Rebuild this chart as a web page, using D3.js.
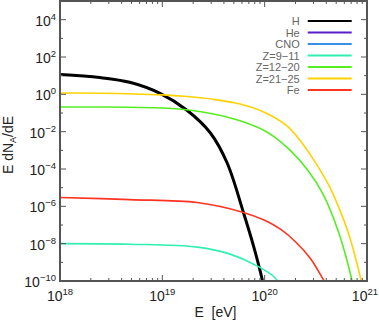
<!DOCTYPE html>
<html>
<head>
<script src="https://d3js.org/d3.v7.min.js"></script>
<style>
  body { margin: 0; background: #fff; }
  text { font-family: "Liberation Sans", Arial, sans-serif; }
</style>
</head>
<body>
<svg id="chart" width="379" height="320"></svg>
<script>
// energies (eV) and E dN/dE, one pair of arrays per group
var eH   = [1e18, 2.45e18, 4.8e18, 9.5e18, 1.74e19, 2.95e19, 4.3e19, 6.2e19, 7.8e19, 9.4e19, 1.0e20];
var fH   = [11.5, 7.9, 4.4, 1.12, 0.14, 8.5e-3, 2.1e-4, 4.7e-7, 7.2e-9, 1.4e-10, 2.5e-11];
var eHe  = [];
var fHe  = [];
var eCNO = [];
var fCNO = [];
var eZ9  = [1e18, 4.8e18, 2.2e19, 4.6e19, 8.5e19, 1.29e20, 1.4e20];
var fZ9  = [1.0e-8, 9.3e-9, 6.5e-9, 2.75e-9, 6.3e-10, 1.3e-10, 3e-11];
var eZ12 = [1e18, 2.5e18, 1e19, 1.74e19, 3.16e19, 5.75e19, 1e20, 1.26e20, 1.78e20, 2.63e20, 3.72e20, 5.25e20, 6.3e20, 7.08e20, 7.6e20];
var fZ12 = [0.21, 0.21, 0.186, 0.148, 0.089, 0.038, 0.0112, 5.0e-3, 1.0e-3, 8.9e-5, 4.5e-6, 4.5e-8, 1.6e-9, 1.26e-10, 2.5e-11];
var eZ21 = [1e18, 2.5e18, 1e19, 1.74e19, 3.16e19, 5.75e19, 1e20, 1.66e20, 2.24e20, 3.0e20, 4.17e20, 5.25e20, 6.6e20, 7.76e20, 8.7e20, 9.5e20];
var fZ21 = [1.17, 1.15, 0.93, 0.76, 0.54, 0.30, 0.107, 0.02, 3.2e-3, 3.2e-4, 1.6e-5, 1.0e-6, 3.5e-8, 1.6e-9, 1.26e-10, 1.8e-11];
var eFe  = [1e18, 4.8e18, 2.2e19, 6.2e19, 1e20, 1.45e20, 2.0e20, 2.8e20, 3.72e20, 4.1e20];
var fFe  = [3.0e-6, 2.3e-6, 1.6e-6, 4.7e-7, 1.78e-7, 5.6e-8, 1.26e-8, 1.6e-9, 1.26e-10, 5e-11];

var names  = ["H", "He", "CNO", "Z=9\u221211", "Z=12\u221220", "Z=21\u221225", "Fe"];
var colors = ["#000000", "#5a1ecc", "#3a8ee6", "#2ff0b0", "#55ee22", "#ffd200", "#ff3322"];
var energies = [eH, eHe, eCNO, eZ9, eZ12, eZ21, eFe];
var fluxes   = [fH, fHe, fCNO, fZ9, fZ12, fZ21, fFe];

var xDecades = [18, 19, 20, 21];
var yDecades = d3.range(-10, 6);

var margin = {top: 1, right: 12, bottom: 39, left: 60},
    width = 379 - margin.left - margin.right,
    height = 320 - margin.top - margin.bottom;

var svg = d3.select("#chart")
  .append("g")
  .attr("transform", "translate(" + margin.left + "," + margin.top + ")");

var x = d3.scaleLog().domain([1e18, 1e21]).range([0, width]);
var y = d3.scaleLog().domain([1e-10, 1e5]).range([height, 0]);

svg.append("clipPath").attr("id", "clip")
  .append("rect").attr("width", width).attr("height", height);

// curves
var line = d3.line()
  .x(function(d) { return x(d[0]); })
  .y(function(d) { return y(d[1]); })
  .curve(d3.curveCatmullRom.alpha(0.5));

energies.forEach(function(es, i) {
  if (!es.length) return;
  var pts = es.map(function(e, j) { return [e, fluxes[i][j]]; });
  svg.append("path")
    .datum(pts)
    .attr("clip-path", "url(#clip)")
    .attr("fill", "none")
    .attr("stroke", colors[i])
    .attr("stroke-width", i == 0 ? 3 : 1.6)
    .attr("d", line);
});

// frame + ticks
var axisCol = "#555";
var xTicks = [];
for (var d = 18; d < 21; d++) for (var m = 1; m < 10; m++) xTicks.push(m * Math.pow(10, d));
xTicks.push(1e21);

var ticks = svg.append("g").attr("stroke", axisCol).attr("stroke-width", 1);
xTicks.forEach(function(t) {
  var major = Math.abs(Math.log10(t) - Math.round(Math.log10(t))) < 1e-9;
  var len = major ? 6 : 3;
  ticks.append("line").attr("x1", x(t)).attr("x2", x(t)).attr("y1", height).attr("y2", height - len);
  ticks.append("line").attr("x1", x(t)).attr("x2", x(t)).attr("y1", 0).attr("y2", len);
});
yDecades.forEach(function(p) {
  var len = p % 2 == 0 ? 6 : 3;
  var yy = y(Math.pow(10, p));
  ticks.append("line").attr("x1", 0).attr("x2", len).attr("y1", yy).attr("y2", yy);
  ticks.append("line").attr("x1", width).attr("x2", width - len).attr("y1", yy).attr("y2", yy);
});

svg.append("rect")
  .attr("width", width).attr("height", height)
  .attr("fill", "none").attr("stroke", axisCol).attr("stroke-width", 2);

// tick labels with superscripts
function powLabel(sel, p) {
  sel.append("tspan").text("10");
  sel.append("tspan").attr("dy", -6).attr("font-size", 9.5).text(p < 0 ? "\u2212" + (-p) : p);
}
xDecades.forEach(function(p) {
  var last = p == 21;
  var t = svg.append("text")
    .attr("x", last ? width + 11 : x(Math.pow(10, p))).attr("y", height + 20)
    .attr("text-anchor", last ? "end" : "middle").attr("font-size", 14).attr("fill", "#222");
  powLabel(t, p);
});
yDecades.filter(function(p) { return p % 2 == 0; }).forEach(function(p) {
  var t = svg.append("text")
    .attr("x", -4).attr("y", y(Math.pow(10, p)) + 6)
    .attr("text-anchor", "end").attr("font-size", 14).attr("fill", "#222");
  powLabel(t, p);
});

// axis titles
svg.append("text")
  .attr("x", width / 2 + 2).attr("y", height + 36)
  .attr("text-anchor", "middle").attr("font-size", 14).attr("fill", "#222")
  .attr("xml:space", "preserve")
  .text("E  [eV]");

var yt = svg.append("text")
  .attr("transform", "translate(" + (-margin.left + 13) + "," + 144 + ") rotate(-90)")
  .attr("text-anchor", "middle").attr("font-size", 14).attr("fill", "#222");
yt.append("tspan").text("E dN");
yt.append("tspan").attr("dy", 3).attr("font-size", 9).text("A");
yt.append("tspan").attr("dy", -3).text("/dE");

// legend
var legend = svg.append("g").attr("transform", "translate(" + x(2.2e20) + ",20)");
names.forEach(function(n, i) {
  var g = legend.append("g").attr("transform", "translate(0," + (i * 11.5) + ")");
  g.append("text").attr("x", 0).attr("y", 4).attr("text-anchor", "end")
    .attr("font-size", 11).attr("fill", "#666").text(n);
  g.append("line").attr("x1", 8).attr("x2", 52).attr("y1", 0).attr("y2", 0)
    .attr("stroke", colors[i]).attr("stroke-width", 2);
});
</script>
</body>
</html>
